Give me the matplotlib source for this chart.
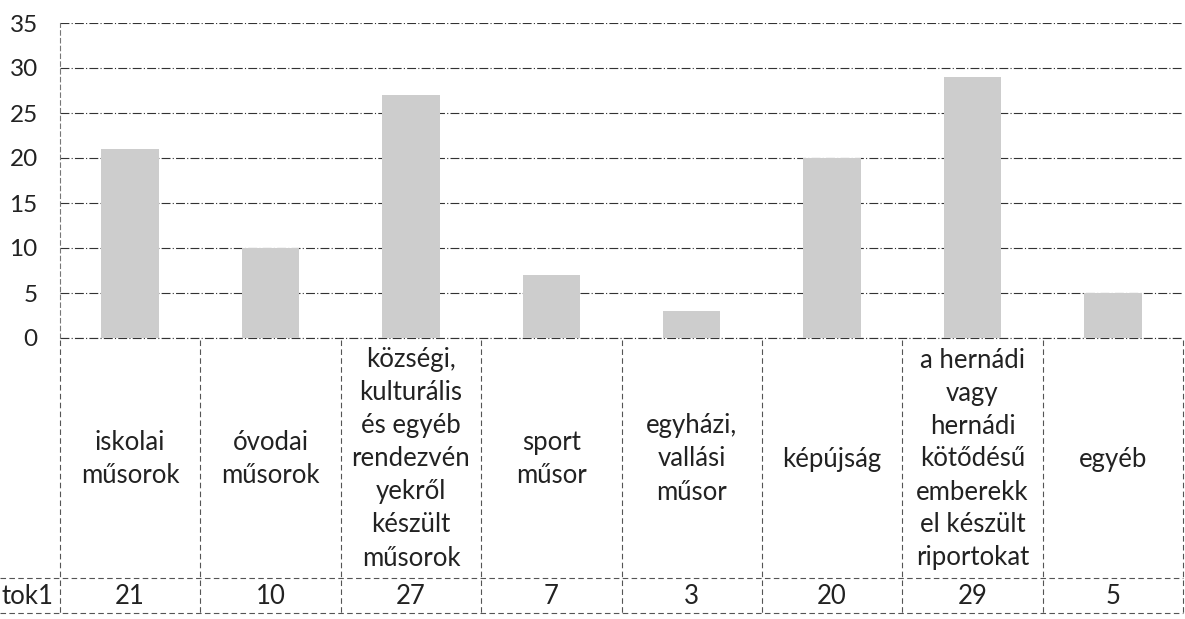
import matplotlib
matplotlib.use('Agg')
import matplotlib.pyplot as plt

categories = [
    "iskolai\nműsorok",
    "óvodai\nműsorok",
    "községi,\nkulturális\nés egyéb\nrendezvén\nyekről\nkészült\nműsorok",
    "sport\nműsor",
    "egyházi,\nvallási\nműsor",
    "képújság",
    "a hernádi\nvagy\nhernádi\nkötődésű\nemberekk\nel készült\nriportokat",
    "egyéb",
]
values = [21, 10, 27, 7, 3, 20, 29, 5]
series_name = "tok1"
yticks = [0, 5, 10, 15, 20, 25, 30, 35]

plt.rcParams['font.family'] = ['Lato', 'DejaVu Sans']

W, H = 1185, 619
fig = plt.figure(figsize=(W / 100, H / 100), dpi=100)


def fx(px):
    return px / W


def fy(py):
    return 1 - py / H


L, R = 60, 1183
ax = fig.add_axes([fx(L), fy(338), fx(R) - fx(L), fy(23) - fy(338)])
x = list(range(len(values)))
ax.bar(x, values, width=0.41, color='#cdcdcd', zorder=2)
ax.set_xlim(-0.5, len(values) - 0.5)
ax.set_ylim(0, 35)
ax.set_yticks(yticks)
ax.set_xticks([])
grid_ls = (0, (8, 2, 1, 2))
ax.grid(axis='y', ls=grid_ls, color='#333333', lw=0.8, zorder=1)
ax.axhline(0, ls=grid_ls, color='#333333', lw=0.8, zorder=1, clip_on=False)
for s in ['top', 'right', 'bottom']:
    ax.spines[s].set_visible(False)
ax.spines['left'].set_linestyle((0, (4, 3)))
ax.spines['left'].set_color('#777777')
ax.spines['left'].set_linewidth(0.8)
ax.tick_params(axis='y', length=0, labelsize=17.5, pad=16, labelcolor='#222222')

# data table below
tax = fig.add_axes([fx(L), fy(615), fx(R) - fx(L), fy(340) - fy(615)])
tax.set_xlim(-0.5, len(values) - 0.5)
tax.set_ylim(615, 340)
tax.axis('off')
colw = (R - L) / len(values)
x_left = -0.5 - L / colw
tab_ls = (0, (5, 3))
for k in range(len(values) + 1):
    tax.plot([k - 0.5, k - 0.5], [340, 613], ls=tab_ls, color='#555555', lw=0.8, clip_on=False)
for yy in [578, 613]:
    tax.plot([x_left, len(values) - 0.5], [yy, yy], ls=tab_ls, color='#555555', lw=0.8, clip_on=False)

for i, (c, v) in enumerate(zip(categories, values)):
    tax.text(i, 459, c, ha='center', va='center', fontsize=18.5, color='#222222',
             linespacing=1.4)
    tax.text(i, 597, str(v), ha='center', va='center', fontsize=18.5, color='#222222')
tax.text(x_left + 1 / colw, 597, series_name, ha='left', va='center', fontsize=18.5,
         color='#222222', clip_on=False)

fig.savefig('out.png', dpi=100)
